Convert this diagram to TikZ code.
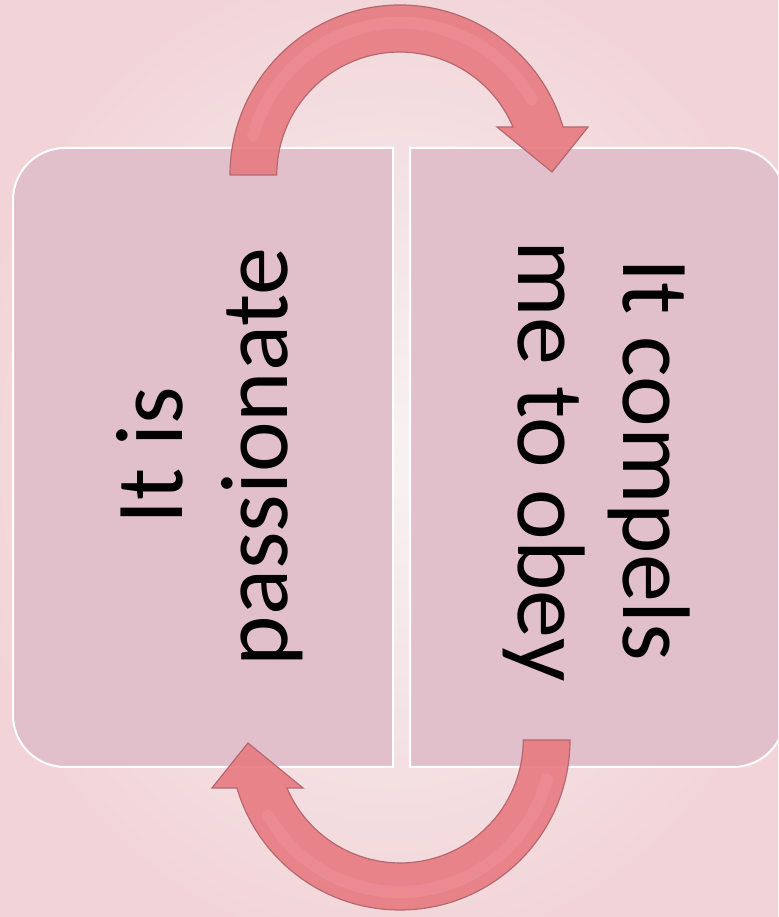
\documentclass[tikz,border=0pt]{standalone}
\usepackage{fontspec}
\setmainfont{Carlito}
\definecolor{boxpink}{RGB}{225,191,203}
\definecolor{arrowred}{RGB}{230,124,130}
\definecolor{arrowedge}{RGB}{182,104,112}
\definecolor{arrowlight}{RGB}{245,160,165}
\definecolor{bginner}{RGB}{247,243,243}
\definecolor{bgouter}{RGB}{242,212,216}
\begin{document}
\begin{tikzpicture}[x=1pt,y=1pt,
  boxstyle/.style={fill=boxpink, draw=white, line width=2pt},
  arrowstyle/.style={fill=arrowred, draw=arrowedge, line width=1.2pt, fill opacity=0.92},
  boxtext/.style={font=\fontsize{96}{105}\selectfont, text=black, inner sep=0pt}]
\useasboundingbox (0,0) rectangle (778,917);
\clip (0,0) rectangle (778,917);
% background
\shade[inner color=bginner, outer color=bgouter] (-40,-40) rectangle (818,957);
% boxes
\path[boxstyle] (393,150) -- (65,150) arc[start angle=270, end angle=180, radius=52]
  -- (13,717) arc[start angle=180, end angle=90, radius=52] -- (393,769) -- cycle;
\path[boxstyle] (410,769) -- (733,769) arc[start angle=90, end angle=0, radius=52]
  -- (785,202) arc[start angle=0, end angle=-90, radius=52] -- (410,150) -- cycle;
\coordinate (leftbox) at (203,459.5);
\coordinate (rightbox) at (597,459.5);
% texts
\node[boxtext, rotate=90, anchor=base] (l1) at (182,461) {It is};
\node[boxtext, rotate=90, anchor=base] (l2) at (287,460) {passionate};
\node[boxtext, rotate=-90, anchor=base] (r1) at (623,457) {It compels};
\node[boxtext, rotate=-90, anchor=base] (r2) at (518,456) {me to obey};
% circular arrows
\path[arrowstyle] (230,742) arc[start angle=180, end angle=16.4, radius=170]
  -- (588,790) -- (552,745) -- (497,790) -- (513,790)
  arc[start angle=23, end angle=180, radius=123] -- cycle;
\path[arrowstyle, rotate around={180:(400,459.5)}] (230,742) arc[start angle=180, end angle=16.4, radius=170]
  -- (588,790) -- (552,745) -- (497,790) -- (513,790)
  arc[start angle=23, end angle=180, radius=123] -- cycle;
% soft highlight along the arrows
\draw[arrowlight, line width=12pt, opacity=0.3, line cap=round] (400,742) ++(165:152) arc[start angle=165, end angle=30, radius=152];
\draw[arrowlight, line width=12pt, opacity=0.3, line cap=round, rotate around={180:(400,459.5)}] (400,742) ++(165:152) arc[start angle=165, end angle=30, radius=152];
\end{tikzpicture}
\end{document}
